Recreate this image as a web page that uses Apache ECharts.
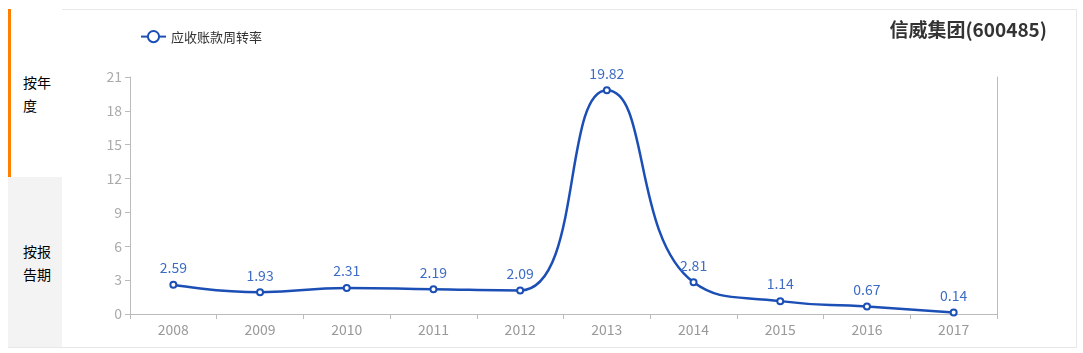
<!DOCTYPE html>
<html>
<head>
<meta charset="utf-8">
<script src="https://cdn.jsdelivr.net/npm/echarts@6/dist/echarts.min.js"></script>
<style>
    body { margin: 0; background: #fff; font-family: "Noto Sans CJK SC", sans-serif; }
    .wrap { position: relative; width: 1083px; height: 353px; overflow: hidden; }
    .box { position: absolute; left: 8px; top: 9px; width: 1068px; height: 337px; border: 1px solid #e8e8e8; border-left: none; }
    .tab { position: absolute; left: 8px; width: 54px; font-size: 14px; color: #000; line-height: 23px; box-sizing: border-box; padding-left: 15px; }
    .tab1 { top: 9px; height: 168px; border-left: 3px solid #ff7f00; padding-left: 12px; padding-top: 62px; background: #fff; }
    .tab2 { top: 177px; height: 170px; background: #f3f3f3; padding-top: 63px; }
    #container { position: absolute; left: 0; top: 0; width: 1083px; height: 353px; }
</style>
</head>
<body>
<div class="wrap">
    <div class="box"></div>
    <div class="tab tab1">按年<br>度</div>
    <div class="tab tab2">按报<br>告期</div>
    <div id="container"></div>
</div>
<script>
// 年份
const years = ['2008', '2009', '2010', '2011', '2012', '2013', '2014', '2015', '2016', '2017']
// 应收账款周转率
const turnover = [2.59, 1.93, 2.31, 2.19, 2.09, 19.82, 2.81, 1.14, 0.67, 0.14]
const seriesName = '应收账款周转率'
const titleText = '信威集团(600485)'

let myChart = echarts.init(document.getElementById('container'))
let option = {
    animation: false,
    title: {
        text: titleText,
        right: 31,
        top: 15,
        textStyle: { fontSize: 19, fontWeight: 'bold', color: '#333', fontFamily: 'Noto Sans CJK SC' },
    },
    legend: {
        left: 135,
        top: 25,
        itemWidth: 25,
        itemHeight: 14,
        textStyle: { fontSize: 13, color: '#333', fontFamily: 'Noto Sans CJK SC' },
        data: [seriesName],
    },
    grid: { left: 130, right: 86, top: 77, bottom: 39 },
    xAxis: {
        type: 'category',
        boundaryGap: true,
        data: years,
        axisLine: { lineStyle: { color: '#bbb' } },
        axisTick: { show: true, lineStyle: { color: '#bbb' } },
        axisLabel: { color: '#999', fontSize: 14, margin: 9, fontFamily: 'Noto Sans CJK SC' },
    },
    yAxis: [
        {
            type: 'value',
            min: 0,
            max: 21,
            interval: 3,
            splitLine: { show: false },
            axisLine: { show: true, lineStyle: { color: '#bbb' } },
            axisTick: { show: true, lineStyle: { color: '#bbb' } },
            axisLabel: { color: '#aaa', fontSize: 14, fontFamily: 'Noto Sans CJK SC' },
        },
        {
            type: 'value',
            min: 0,
            max: 21,
            interval: 3,
            position: 'right',
            splitLine: { show: false },
            axisLine: { show: true, lineStyle: { color: '#bbb' } },
            axisTick: { show: false },
            axisLabel: { show: false },
        },
    ],
    series: [
        {
            name: seriesName,
            type: 'line',
            smooth: true,
            symbol: 'emptyCircle',
            symbolSize: 6,
            data: turnover,
            lineStyle: { color: '#1c4fb5', width: 2.5 },
            itemStyle: { color: '#1c4fb5', borderWidth: 1.5 },
            label: {
                show: true,
                position: 'top',
                distance: 6,
                color: '#3d6cc4',
                fontSize: 14,
                fontFamily: 'Noto Sans CJK SC',
            },
        },
    ],
}
option && myChart.setOption(option)
</script>
</body>
</html>
